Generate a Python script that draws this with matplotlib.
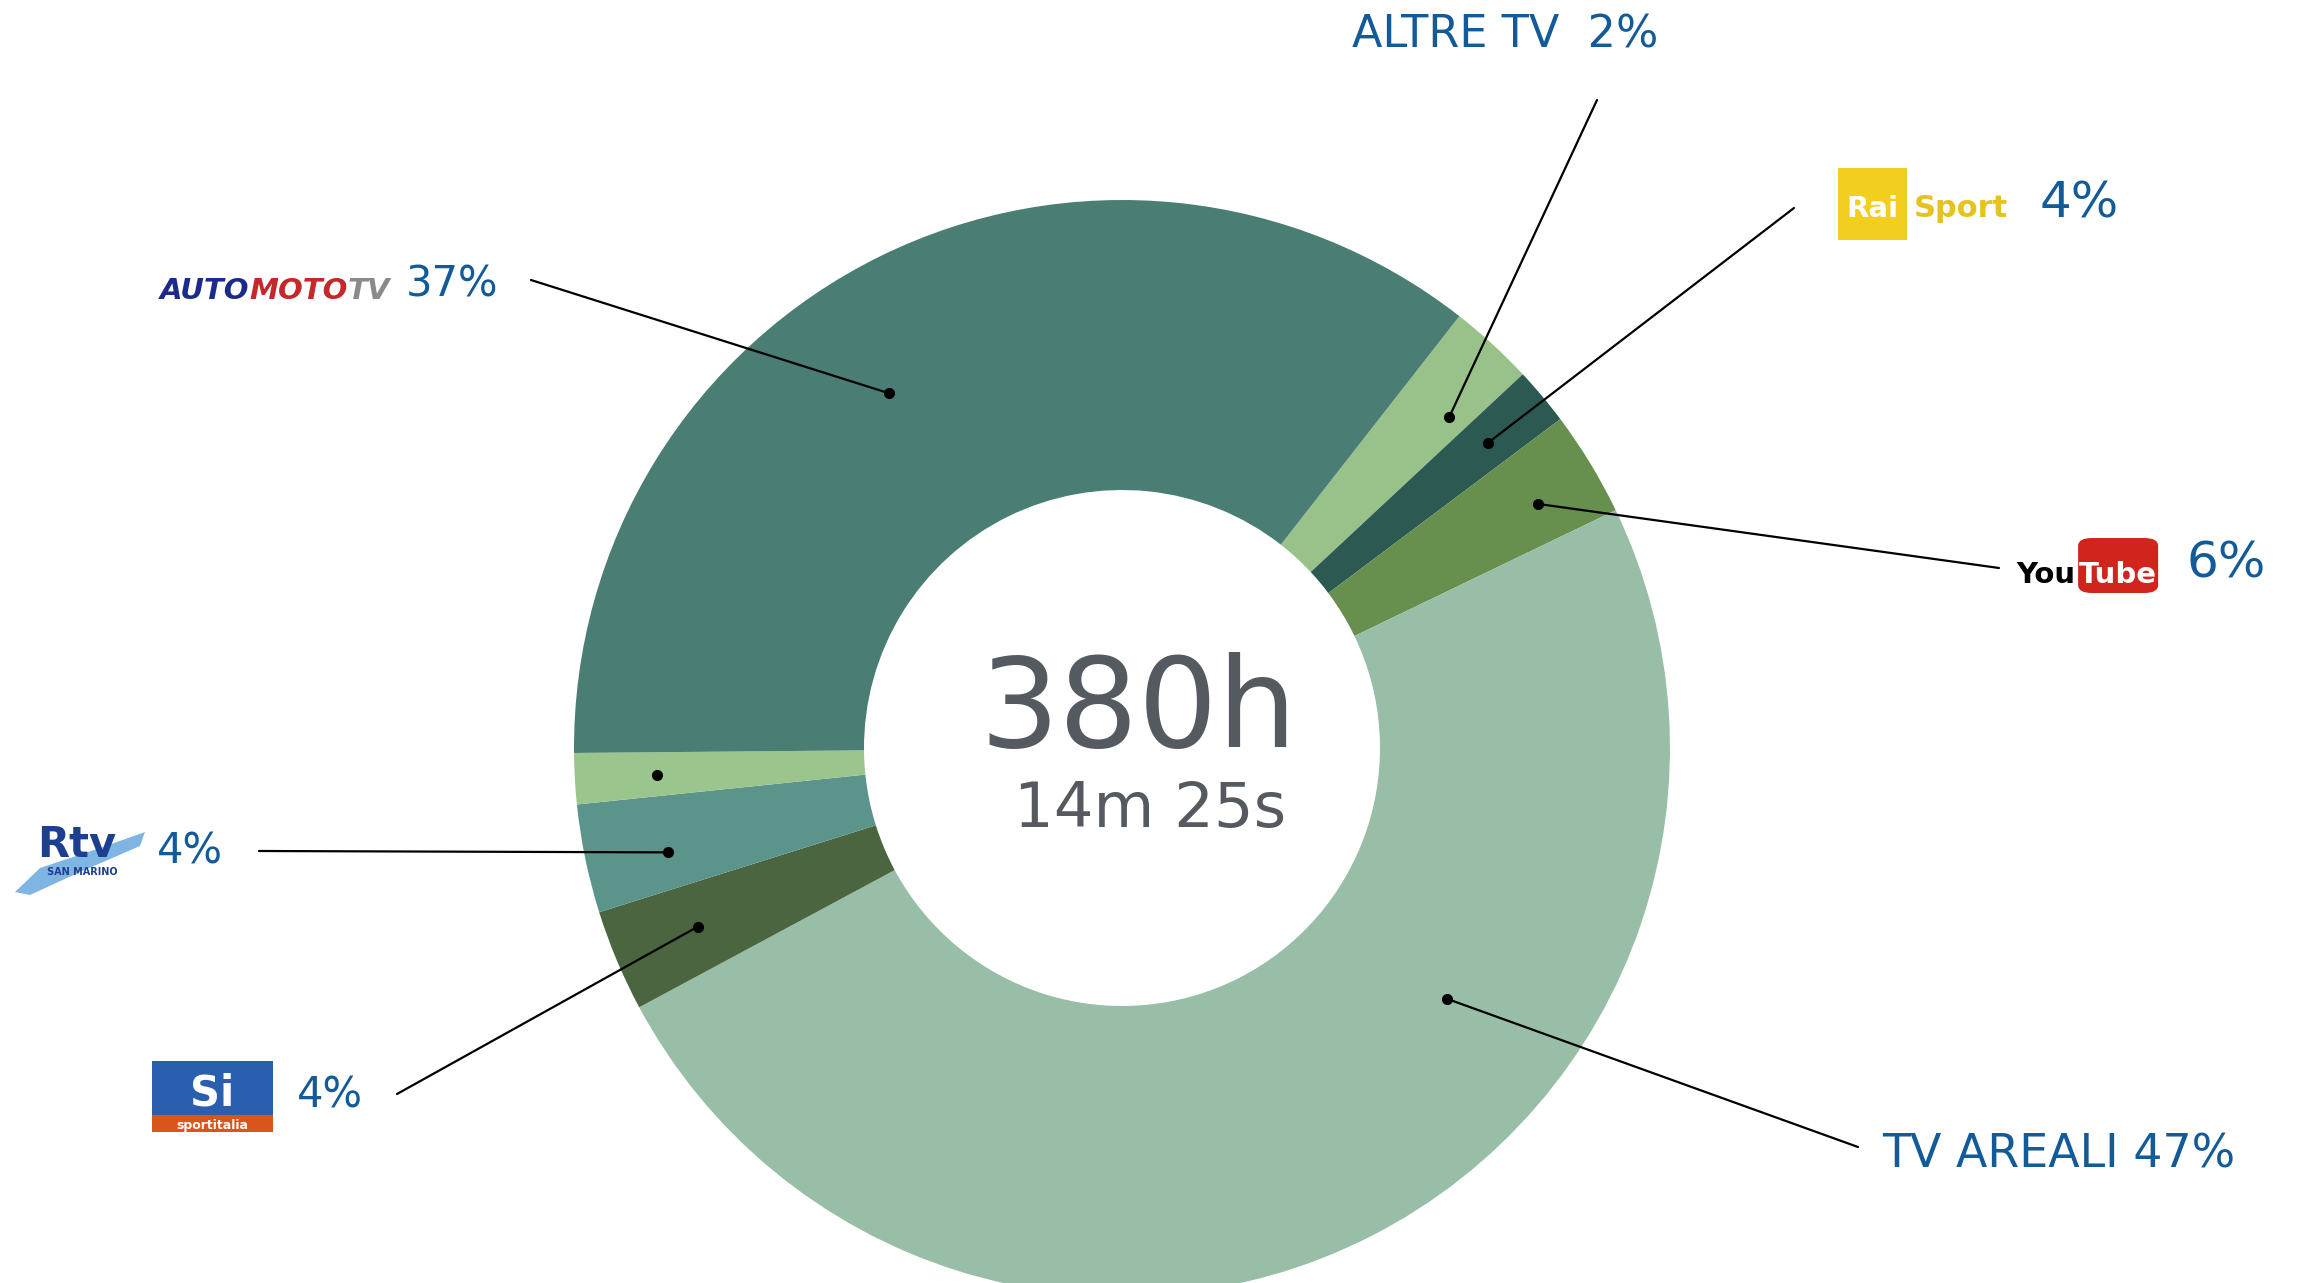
import numpy as np
import matplotlib
matplotlib.use("Agg")
import matplotlib.pyplot as plt
from matplotlib.patches import Rectangle, FancyBboxPatch, Polygon

channels = ["Altre TV", "Rai Sport", "YouTube", "TV areali",
            "Sportitalia", "RTV San Marino", "Altro", "AutoMotoTV"]
shares = [2.5, 1.7, 3.1, 49.3, 3.0, 3.2, 1.5, 35.7]
pct_labels = ["2%", "4%", "6%", "47%", "4%", "4%", "", "37%"]
colors = ["#98c28a", "#2c5a53", "#67904f", "#98bea7",
          "#4a6540", "#5a948b", "#9ac58d", "#4a7d74"]
total_hours = "380h"
total_rest = "14m 25s"

# layout: where the dot sits inside each wedge and where its leader line ends (px)
dot_frac = [0.74, 0.52, 0.58, 0.357, 0.50, 0.39, 0.47, 0.445]
dot_rad = [0.85, 0.87, 0.88, 0.75, 0.84, 0.85, 0.85, 0.775]
line_end = [(1597, 100), (1794, 208), (1999, 568), (1858, 1147),
            (397, 1094), (259, 851), None, (531, 280)]

BLUE = "#135b98"
GREY = "#555a60"
W, H = 2308, 1283

fig = plt.figure(figsize=(W / 100, H / 100), dpi=100)
fig.patch.set_facecolor("white")


def fx(x):
    return x / W


def fy(y):
    return 1 - y / H


cx, cy, R, r_in = 1122, 748, 548, 258
ax = fig.add_axes([fx(cx - R), fy(cy + R), 2 * R / W, 2 * R / H])
wedges, _ = ax.pie(shares, colors=colors, startangle=52, counterclock=False,
                   radius=1, wedgeprops=dict(width=1 - r_in / R, linewidth=0))
ax.set_xlim(-1, 1)
ax.set_ylim(-1, 1)
ax.set_aspect("equal")
ax.axis("off")

for w, f, rr, end in zip(wedges, dot_frac, dot_rad, line_end):
    ang = np.deg2rad(w.theta2 - f * (w.theta2 - w.theta1))
    x, y = rr * np.cos(ang), rr * np.sin(ang)
    ax.plot(x, y, "o", color="black", ms=7, zorder=5)
    if end is not None:
        ax.annotate("", xy=(x, y), xycoords="data",
                    xytext=(fx(end[0]), fy(end[1])), textcoords="figure fraction",
                    arrowprops=dict(arrowstyle="-", color="black", lw=1.6,
                                    shrinkA=0, shrinkB=0),
                    annotation_clip=False)

# centre total
fig.text(fx(1138), fy(747), total_hours, ha="center", va="baseline",
         fontsize=90, color=GREY)
fig.text(fx(1150), fy(827), total_rest, ha="center", va="baseline",
         fontsize=45, color=GREY)

renderer = fig.canvas.get_renderer()


def chain(x, y, pieces, **kw):
    # write text pieces one after another on a shared baseline
    for s, style in pieces:
        t = fig.text(fx(x), fy(y), s, ha="left", va="baseline", **{**kw, **style})
        x += t.get_window_extent(renderer=renderer).width
    return x


# plain text labels
fig.text(fx(1352), fy(48), channels[0].upper() + "  " + pct_labels[0],
         fontsize=32, color=BLUE, va="baseline")
fig.text(fx(1882), fy(1168), channels[3].upper() + " " + pct_labels[3],
         fontsize=33, color=BLUE, va="baseline")

# percent labels next to the logos
fig.text(fx(2040), fy(218), pct_labels[1], fontsize=36, color=BLUE, va="baseline")
fig.text(fx(2187), fy(578), pct_labels[2], fontsize=36, color=BLUE, va="baseline")
fig.text(fx(297), fy(1108), pct_labels[4], fontsize=30, color=BLUE, va="baseline")
fig.text(fx(157), fy(863), pct_labels[5], fontsize=30, color=BLUE, va="baseline")
fig.text(fx(406), fy(297), pct_labels[7], fontsize=30, color=BLUE, va="baseline")

# AutoMotoTV logo
chain(160, 299, [("AUTO", dict(color="#1c2a8c")),
                 ("MOTO", dict(color="#c4282a")),
                 ("TV", dict(color="#8a8a8a"))],
      fontsize=21, fontweight="bold", fontstyle="italic")

# Rai Sport logo
fig.add_artist(Rectangle((fx(1838), fy(240)), fx(69), 72 / H,
                         transform=fig.transFigure, facecolor="#f2cf1e", edgecolor="none"))
fig.text(fx(1872), fy(217), "Rai", ha="center", va="baseline",
         fontsize=21, fontweight="bold", color="white")
fig.text(fx(1914), fy(217), "Sport", ha="left", va="baseline",
         fontsize=22, fontweight="bold", color="#e6c21c")

# YouTube logo
you_end = chain(2016, 583, [("You", dict(color="black"))],
                fontsize=21, fontweight="bold")
fig.add_artist(FancyBboxPatch((fx(you_end + 3), fy(593)), fx(80), 55 / H,
                              boxstyle="round,pad=0,rounding_size=0.006",
                              transform=fig.transFigure,
                              facecolor="#d1241c", edgecolor="none"))
fig.text(fx(you_end + 43), fy(583), "Tube", ha="center", va="baseline",
         fontsize=21, fontweight="bold", color="white")

# RTV San Marino logo
brush = [(15, 892), (40, 868), (100, 848), (145, 832), (140, 846), (80, 872), (30, 895)]
fig.add_artist(Polygon([(fx(a), fy(b)) for a, b in brush], closed=True,
                       transform=fig.transFigure, facecolor="#5fa3dc",
                       edgecolor="none", alpha=0.8))
fig.text(fx(77), fy(857), "Rtv", ha="center", va="baseline",
         fontsize=30, fontweight="bold", color="#1d3f8f")
fig.text(fx(82), fy(875), "SAN MARINO", ha="center", va="baseline",
         fontsize=7, fontweight="bold", color="#1d3f8f")

# Sportitalia logo
fig.add_artist(Rectangle((fx(152), fy(1115)), fx(121), 54 / H,
                         transform=fig.transFigure, facecolor="#2a5fb0", edgecolor="none"))
fig.add_artist(Rectangle((fx(152), fy(1132)), fx(121), 17 / H,
                         transform=fig.transFigure, facecolor="#d9561a", edgecolor="none"))
fig.text(fx(212), fy(1106), "Si", ha="center", va="baseline",
         fontsize=30, fontweight="bold", color="white")
fig.text(fx(212), fy(1129), "sportitalia", ha="center", va="baseline",
         fontsize=9, fontweight="bold", color="white")

fig.savefig("out.png", dpi=100, facecolor="white")
